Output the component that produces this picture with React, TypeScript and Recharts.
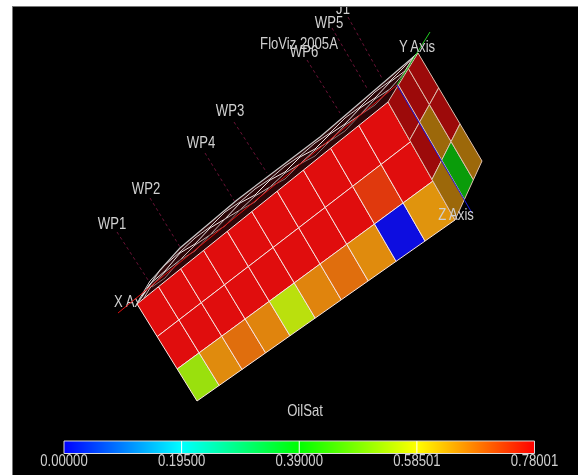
import { ComposedChart, Line, ReferenceArea, ReferenceLine, Scatter, XAxis, YAxis } from "recharts";

type Pt = [number, number];

const WIDTH = 578;
const HEIGHT = 475;
const FONT = "'Liberation Sans', Arial, sans-serif";
const TEXT_COLOR = "#d0d0d0";

// OilSat per cell
const FRONT_ROW_1 = [0.78, 0.78, 0.78, 0.78, 0.78, 0.78, 0.78, 0.78, 0.78, 0.78];
const FRONT_ROW_2 = [0.78, 0.78, 0.78, 0.78, 0.78, 0.78, 0.78, 0.78, 0.739, 0.78];
const FRONT_ROW_3 = [0.52, 0.664, 0.69, 0.67, 0.55, 0.67, 0.69, 0.664, 0, 0.655];
const SIDE_ROW_1 = [0.78, 0.78, 0.78];
const SIDE_ROW_2 = [0.78, 0.655, 0.78];
const SIDE_ROW_3 = [0.655, 0.39, 0.655];

const BAR_MAX = 0.78001;
const BAR_TICKS = [0, 0.195, 0.39, 0.58501, 0.78001];

// corners of the two visible faces, clockwise from the X axis end
const FRONT_QUAD: Pt[] = [[137, 304], [388, 102], [455, 220], [197, 401]];
const SIDE_QUAD: Pt[] = [[388, 102], [418, 53], [482, 161], [455, 220]];

// top face, seen nearly edge on
const TOP_SLIVER: Pt[] = [[137, 304], [160, 270], [180, 248], [237, 200], [320, 137], [418, 53], [388, 102]];
const WIRE_EDGE: Pt[] = [[137, 304], [160, 270], [180, 248], [237, 200], [320, 137], [418, 53]];
const WIRE_A: Pt[] = [[142, 296], [150, 284], [165, 271], [180, 253], [195, 244], [210, 228], [225, 219], [240, 203], [255, 195], [270, 180], [285, 172], [300, 157], [315, 149], [330, 134], [345, 124], [360, 108], [375, 98], [390, 82], [405, 71], [414, 56]];
const WIRE_B: Pt[] = [[144, 298], [150, 288], [165, 272], [180, 260], [195, 245], [210, 235], [225, 219], [240, 210], [255, 196], [270, 187], [285, 173], [300, 164], [315, 150], [330, 141], [345, 125], [360, 115], [375, 99], [390, 89], [405, 72], [415, 55]];
const WIRE_C: Pt[] = [[140, 298], [150, 281], [165, 265], [180, 252], [195, 238], [210, 227], [225, 212], [240, 202], [255, 189], [270, 179], [285, 166], [300, 156], [315, 143], [330, 133], [345, 118], [360, 107], [375, 92], [390, 81], [405, 66], [416, 54]];
const WIRE_D: Pt[] = [[152, 287], [165, 278], [180, 260], [195, 251], [210, 235], [225, 226], [240, 210], [255, 202], [270, 187], [285, 179], [300, 164], [315, 156], [330, 141], [345, 131], [360, 115], [375, 105], [390, 89]];

const AXIS_X: Pt[] = [[118, 313], [397, 85]];
const AXIS_Y: Pt[] = [[397, 85], [430, 32]];
const AXIS_Z: Pt[] = [[397, 85], [472, 213]];

const WELL_LINES: Pt[][] = [
  [[117, 232], [150, 283]],
  [[150, 198], [180, 247]],
  [[205, 153], [235, 202]],
  [[234, 122], [267, 173]],
  [[307, 60], [340, 113]],
  [[332, 28], [368, 90]],
  [[348, 17], [383, 80]],
];

const LABEL_NAMES = ["WP1", "WP2", "WP4", "WP3", "FloViz 2005A", "WP6", "WP5", "J1", "Y Axis", "Z Axis", "OilSat"];
const LABEL_XS = [112, 146, 201, 230, 299, 304, 329, 343, 417, 456, 305];
const LABEL_YS = [224, 189, 143, 111, 44, 52, 23, 9, 47, 215, 411];

function oilColor(v: number, low: number, high: number): string {
  const stops: number[][] = [[0, 0, 1], [0, 1, 1], [0, 1, 0], [1, 1, 0], [1, 0, 0]];
  const t = Math.min(3.9999, (v / BAR_MAX) * 4);
  const i = Math.floor(t);
  const f = t - i;
  const ch = [0, 1, 2].map((k) => {
    const c = stops[i][k] + (stops[i + 1][k] - stops[i][k]) * f;
    return Math.round(low + (high - low) * c);
  });
  return `rgb(${ch[0]},${ch[1]},${ch[2]})`;
}

// perspective map of the unit square onto a face
function projector(q: Pt[]) {
  const [[x0, y0], [x1, y1], [x2, y2], [x3, y3]] = q;
  const dx1 = x1 - x2;
  const dx2 = x3 - x2;
  const sx = x0 - x1 + x2 - x3;
  const dy1 = y1 - y2;
  const dy2 = y3 - y2;
  const sy = y0 - y1 + y2 - y3;
  const den = dx1 * dy2 - dx2 * dy1;
  const g = (sx * dy2 - dx2 * sy) / den;
  const h = (dx1 * sy - sx * dy1) / den;
  return (u: number, v: number): Pt => {
    const w = g * u + h * v + 1;
    return [
      ((x1 - x0 + g * x1) * u + (x3 - x0 + h * x3) * v + x0) / w,
      ((y1 - y0 + g * y1) * u + (y3 - y0 + h * y3) * v + y0) / w,
    ];
  };
}

type PolyPoint = { x: number; y: number; outline: Pt[]; fill: string; stroke: string };

function buildFace(rows: number[][], quad: Pt[], low: number, high: number, stroke: string): PolyPoint[] {
  const project = projector(quad);
  const nCols = rows[0].length;
  const out: PolyPoint[] = [];
  rows.forEach((row, r) => {
    row.forEach((value, c) => {
      const [x, y] = project((c + 0.5) / nCols, (r + 0.5) / rows.length);
      const outline = [
        project(c / nCols, r / rows.length),
        project((c + 1) / nCols, r / rows.length),
        project((c + 1) / nCols, (r + 1) / rows.length),
        project(c / nCols, (r + 1) / rows.length),
      ].map(([px, py]): Pt => [px - x, py - y]);
      out.push({ x, y, outline, fill: oilColor(value, low, high), stroke });
    });
  });
  return out;
}

const frontCells = buildFace([FRONT_ROW_1, FRONT_ROW_2, FRONT_ROW_3], FRONT_QUAD, 13, 224, "#f8e4e0");
const sideCells = buildFace([SIDE_ROW_1, SIDE_ROW_2, SIDE_ROW_3], SIDE_QUAD, 10, 156, "#e0c0b0");
const sliverCell: PolyPoint[] = [
  {
    x: TOP_SLIVER[0][0],
    y: TOP_SLIVER[0][1],
    outline: TOP_SLIVER.map(([px, py]): Pt => [px - TOP_SLIVER[0][0], py - TOP_SLIVER[0][1]]),
    fill: "#2c0608",
    stroke: "none",
  },
];

const toPoints = (pts: Pt[]) => pts.map(([x, y]) => ({ x, y }));

const labelPoints = LABEL_NAMES.map((name, i) => ({ x: LABEL_XS[i], y: LABEL_YS[i], name }));

function PolyShape(props: any) {
  const { cx, cy, payload } = props;
  const pts = payload.outline.map(([dx, dy]: Pt) => `${cx + dx},${cy + dy}`).join(" ");
  return <polygon points={pts} fill={payload.fill} stroke={payload.stroke} strokeWidth={1} />;
}

// the original text is tall and narrow, so squeeze it sideways
function NarrowText({ x, y, anchor = "middle", children }: { x: number; y: number; anchor?: string; children: any }) {
  return (
    <text
      transform={`translate(${x},${y}) scale(0.82,1)`}
      textAnchor={anchor}
      dominantBaseline="central"
      fontFamily={FONT}
      fontSize={16}
      fill={TEXT_COLOR}
    >
      {children}
    </text>
  );
}

function LabelShape(props: any) {
  return (
    <NarrowText x={props.cx} y={props.cy}>
      {props.payload.name}
    </NarrowText>
  );
}

function BarTick(props: any) {
  return (
    <NarrowText x={props.x} y={461}>
      {props.payload.value.toFixed(5)}
    </NarrowText>
  );
}

const NoDot = () => <g />;

export default function App() {
  const line = (key: string, pts: Pt[], stroke: string, strokeWidth = 1, strokeDasharray?: string) => (
    <Scatter
      key={key}
      data={toPoints(pts)}
      line={{ stroke, strokeWidth, strokeDasharray }}
      lineType="joint"
      shape={NoDot}
      isAnimationActive={false}
    />
  );

  return (
    <div style={{ position: "fixed", left: 0, top: 0, width: WIDTH, height: HEIGHT, background: "#fff", overflow: "hidden" }}>
      <div
        style={{
          position: "absolute",
          left: 12,
          top: 6,
          right: 0,
          bottom: 0,
          background: "#000",
          borderLeft: "1px solid #777",
          borderTop: "1px solid #777",
          overflow: "hidden",
          filter: "blur(0.4px)",
        }}
      >
        <div style={{ position: "absolute", left: -13, top: -7 }}>
          <ComposedChart width={WIDTH} height={HEIGHT} margin={{ top: 0, right: 0, bottom: 0, left: 0 }}>
            <XAxis type="number" dataKey="x" domain={[0, WIDTH]} hide />
            <YAxis type="number" dataKey="y" domain={[0, HEIGHT]} reversed hide />
            <Scatter
              data={[{ x: 114, y: 302, name: "X Axis" }]}
              shape={(p: any) => (
                <NarrowText x={p.cx} y={p.cy} anchor="start">
                  {p.payload.name}
                </NarrowText>
              )}
              isAnimationActive={false}
            />
            {WELL_LINES.map((pts, i) => line(`well${i}`, pts, "#6a1236", 1, "3 3"))}
            <Scatter data={sliverCell} shape={PolyShape} isAnimationActive={false} />
            {line("edge", WIRE_EDGE, "#c8c8c8", 1.2)}
            {line("wireC", WIRE_C, "#d8d0d0", 1)}
            {line("wireA", WIRE_A, "#f0e8e8", 1)}
            {line("wireB", WIRE_B, "#c8b8b8", 1)}
            {line("wireD", WIRE_D, "#8a7070", 1)}
            {line("axisX", AXIS_X, "#e01010", 1)}
            <Scatter data={frontCells} shape={PolyShape} isAnimationActive={false} />
            <Scatter data={sideCells} shape={PolyShape} isAnimationActive={false} />
            {line("axisY", AXIS_Y, "#20d020", 1)}
            {line("axisZ", AXIS_Z, "#1818e0", 1)}
            <Scatter data={labelPoints} shape={LabelShape} isAnimationActive={false} />
          </ComposedChart>
          <div style={{ position: "absolute", left: 0, top: 0 }}>
            <ComposedChart
              width={WIDTH}
              height={HEIGHT}
              margin={{ top: 441, right: 43.5, bottom: 0, left: 64 }}
              data={BAR_TICKS.map((v) => ({ v, w: 0.5 }))}
            >
              <defs>
                <linearGradient id="oilSatGradient" x1="0" y1="0" x2="1" y2="0">
                  <stop offset="0%" stopColor="#0000ff" />
                  <stop offset="25%" stopColor="#00ffff" />
                  <stop offset="50%" stopColor="#00ff00" />
                  <stop offset="75%" stopColor="#ffff00" />
                  <stop offset="100%" stopColor="#ff0000" />
                </linearGradient>
              </defs>
              <XAxis
                type="number"
                dataKey="v"
                domain={[0, BAR_MAX]}
                ticks={BAR_TICKS}
                interval={0}
                height={21.5}
                axisLine={false}
                tickLine={false}
                tick={BarTick}
              />
              <YAxis type="number" domain={[0, 1]} hide />
              <Line dataKey="w" stroke="none" dot={false} isAnimationActive={false} />
              <ReferenceArea x1={0} x2={BAR_MAX} y1={0} y2={1} fill="url(#oilSatGradient)" fillOpacity={1} stroke="#d8d8d8" strokeWidth={1} />
              {BAR_TICKS.slice(1, -1).map((v) => (
                <ReferenceLine key={v} x={v} stroke="#ffffff" strokeWidth={1} />
              ))}
            </ComposedChart>
          </div>
        </div>
      </div>
    </div>
  );
}
